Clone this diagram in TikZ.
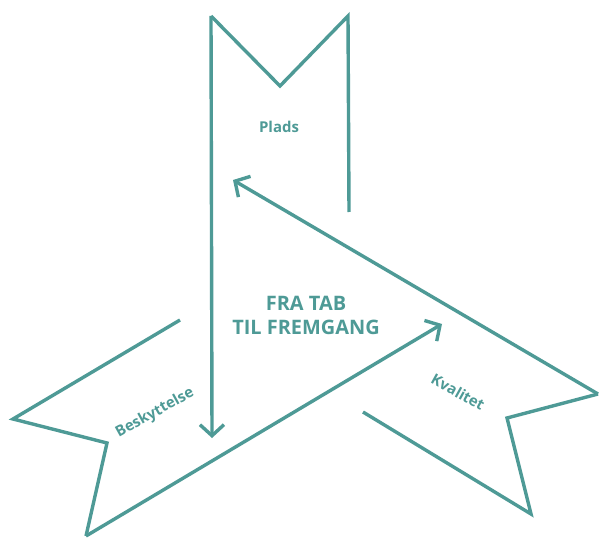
\documentclass[tikz,border=0pt]{standalone}
\usepackage{fontspec}
\setmainfont{Open Sans}
\usetikzlibrary{arrows.meta,positioning}

\definecolor{teal}{HTML}{4E9A96}

\begin{document}
\begin{tikzpicture}[x=1bp,y=-1bp]
  \tikzstyle{band} = [draw=teal, line width=3.4bp, miter limit=20]
  \tikzstyle{arrow} = [band, -{Straight Barb[length=11bp,width=24bp]}]
  \tikzstyle{label} = [text=teal, font=\bfseries\fontsize{15}{18}\selectfont, inner sep=0pt]
  \tikzstyle{title} = [text=teal, font=\bfseries\fontsize{20}{24}\selectfont, align=center, inner sep=0pt]
\useasboundingbox (0,0) rectangle (601,538);
% top ribbon
\coordinate (pl) at (211,16);
\coordinate (pv) at (280,86);
\coordinate (pr) at (348,16);
\coordinate (pe) at (349,212);
\coordinate (pa) at (212,438);
% left ribbon
\coordinate (bs) at (180,320);
\coordinate (bt) at (13,419);
\coordinate (bn) at (107,443);
\coordinate (bb) at (86,536);
\coordinate (ba) at (442,324);
% right ribbon
\coordinate (ks) at (363,412);
\coordinate (kb) at (531,514);
\coordinate (kn) at (507,418);
\coordinate (kt) at (598,394);
\coordinate (ka) at (233,180);
\path [band] (pe) -- (pr) -- (pv) -- (pl);
\path [arrow] (pl) -- (pa);
\path [band] (bs) -- (bt) -- (bn) -- (bb);
\path [arrow] (bb) -- (ba);
\path [band] (ks) -- (kb) -- (kn) -- (kt);
\path [arrow] (kt) -- (ka);
\node [label] (plads) at (279,127) {Plads};
\node [label, rotate=29] (besk) at (155,413) {Beskyttelse};
\node [label, rotate=-29] (kval) at (458,392) {Kvalitet};
\node [title] (midt) at (306,315) {FRA TAB\\TIL FREMGANG};
\end{tikzpicture}
\end{document}
